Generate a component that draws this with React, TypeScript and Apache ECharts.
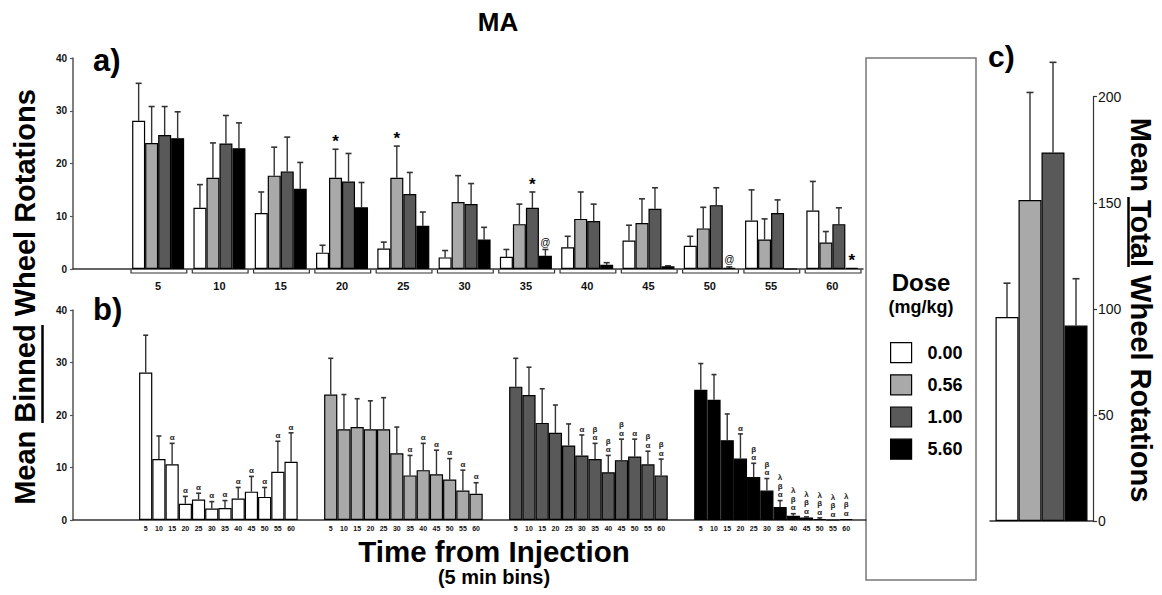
import React, { useEffect, useRef } from "react";
import * as echarts from "echarts";

const FONT = '"Liberation Sans", Arial, Helvetica, sans-serif';

// ---------- data ----------
const timeBins = [5, 10, 15, 20, 25, 30, 35, 40, 45, 50, 55, 60];
const doses = ["0.00", "0.56", "1.00", "5.60"];

const meanDose000 = [28.1, 11.6, 10.6, 3.1, 3.9, 2.2, 2.3, 4.1, 5.4, 4.4, 9.2, 11.1];
const meanDose056 = [23.9, 17.3, 17.7, 17.3, 17.3, 12.7, 8.5, 9.5, 8.7, 7.7, 5.6, 5.0];
const meanDose100 = [25.4, 23.8, 18.5, 16.6, 14.2, 12.3, 11.6, 9.1, 11.4, 12.1, 10.6, 8.5];
const meanDose560 = [24.8, 22.9, 15.2, 11.7, 8.2, 5.6, 2.5, 0.8, 0.5, 0.2, 0, 0.2];

const semDose000 = [7.1, 4.4, 4.0, 1.4, 1.2, 1.3, 1.4, 2.1, 2.9, 1.8, 5.8, 5.5];
const semDose056 = [6.9, 6.6, 5.4, 5.4, 6.0, 5.0, 3.8, 5.1, 4.6, 4.0, 3.9, 2.1];
const semDose100 = [5.4, 5.3, 6.5, 5.3, 4.1, 3.9, 3.0, 3.2, 4.0, 3.3, 2.5, 3.1];
const semDose560 = [5.0, 4.8, 5.0, 4.7, 2.6, 2.3, 1.2, 0.4, 0.1, 0.2, 0, 0];

// significance marks, panel a)
const markA000 = ["", "", "", "", "", "", "", "", "", "", "", ""];
const markA056 = ["", "", "", "*", "*", "", "", "", "", "", "", ""];
const markA100 = ["", "", "", "", "", "", "*", "", "", "", "", ""];
const markA560 = ["", "", "", "", "", "", "@", "", "", "@", "", "*"];

// significance marks, panel b) (read top to bottom)
const markB000 = ["", "", "α", "α", "α", "α", "α", "α", "α", "α", "α", "α"];
const markB056 = ["", "", "", "", "", "", "α", "α", "α", "α", "α", "α"];
const markB100 = ["", "", "", "", "", "α", "βα", "βα", "βα", "α", "βα", "βα"];
const markB560 = ["", "", "", "α", "βα", "βα", "λβα", "λβα", "λβα", "λβα", "λβα", "λβα"];

const totalMean = [96.1, 151.3, 173.7, 92.1];
const totalSem = [16.0, 50.7, 42.5, 22.1];

const binnedMax = 40;
const binnedStep = 10;
const totalMax = 200;
const totalStep = 50;

// ---------- derived ----------
const binMeans = [meanDose000, meanDose056, meanDose100, meanDose560];
const binSems = [semDose000, semDose056, semDose100, semDose560];
const marksA = [markA000, markA056, markA100, markA560];
const marksB = [markB000, markB056, markB100, markB560];
const colors = ["#ffffff", "#a9a9a9", "#595959", "#000000"];

const LEAD = 5; // empty slots before first group in panel b
const GAP = 2; // empty slots between groups in panel b
const TOTAL_SLOTS = 60;
const slotOf = (k: number, i: number) => LEAD + k * (timeBins.length + GAP) + i;
const bCats = Array.from({ length: TOTAL_SLOTS }, (_, s) => "s" + s);
const bLabels = Array.from({ length: TOTAL_SLOTS }, () => "");
doses.forEach((_, k) => timeBins.forEach((t, i) => (bLabels[slotOf(k, i)] = String(t))));

const BAR_A = 13;
const BAR_C = 23;

type Item = { i: number; k: number; mean: number; sem: number; mark: string };
const itemsA: Item[] = [];
const itemsB: Item[] = [];
doses.forEach((_, k) =>
  timeBins.forEach((_, i) => {
    itemsA.push({ i, k, mean: binMeans[k][i], sem: binSems[k][i], mark: marksA[k][i] });
    itemsB.push({ i: slotOf(k, i), k, mean: binMeans[k][i], sem: binSems[k][i], mark: marksB[k][i] });
  })
);
const itemsC: Item[] = doses.map((_, k) => ({ i: 0, k, mean: totalMean[k], sem: totalSem[k], mark: "" }));

const ERR = "#333";

function errShapes(x: number, yBot: number, yTop: number, half: number, sem: number) {
  if (!(sem > 0)) return [];
  return [
    { type: "line", shape: { x1: x, y1: yBot, x2: x, y2: yTop }, style: { stroke: ERR, lineWidth: 1.4 } },
    { type: "line", shape: { x1: x - half, y1: yTop, x2: x + half, y2: yTop }, style: { stroke: ERR, lineWidth: 1.6 } },
  ];
}

function gText(text: string, x: number, y: number, size: number, extra: any = {}) {
  return {
    type: "text",
    x,
    y,
    rotation: extra.rotation || 0,
    silent: true,
    style: {
      text,
      font: `${extra.weight || "bold"} ${size}px ${FONT}`,
      fill: "#000",
      textAlign: extra.align || "center",
      textVerticalAlign: "middle",
      align: extra.align || "center",
      verticalAlign: "middle",
    },
  };
}

export default function App() {
  const ref = useRef<HTMLDivElement>(null);
  useEffect(() => {
    if (!ref.current) return;
    const chart = echarts.init(ref.current, undefined, { renderer: "svg" });
    const axisLineDark = { show: true, lineStyle: { color: "#333", width: 1.5 } };
    const binnedY = (gridIndex: number) => ({
      gridIndex,
      type: "value",
      min: 0,
      max: binnedMax,
      interval: binnedStep,
      axisLine: { show: true, lineStyle: { color: "#555", width: 1.5 } },
      axisTick: { show: true, length: 3, lineStyle: { color: "#555", width: 1.2 } },
      axisLabel: { fontWeight: "bold", fontSize: 10, margin: 6, color: "#111", fontFamily: FONT },
      splitLine: { show: false },
    });
    const barStyle = (k: number) => ({ color: colors[k], borderColor: "#000", borderWidth: 1.2 });

    const option: any = {
      animation: false,
      backgroundColor: "#fff",
      textStyle: { fontFamily: FONT },
      grid: [
        { left: 73, top: 58, width: 790, height: 211, containLabel: false, outerBoundsMode: "none" },
        { left: 127.5, top: 58, width: 735.5, height: 211, containLabel: false, outerBoundsMode: "none" },
        { left: 73, top: 310, width: 793, height: 210, containLabel: false, outerBoundsMode: "none" },
        { left: 990, top: 96.7, width: 103, height: 424.3, containLabel: false, outerBoundsMode: "none" },
      ],
      xAxis: [
        {
          gridIndex: 0,
          type: "value",
          min: 0,
          max: 1,
          axisLine: axisLineDark,
          axisTick: { show: false },
          axisLabel: { show: false },
          splitLine: { show: false },
        },
        {
          gridIndex: 1,
          type: "category",
          data: timeBins.map(String),
          axisLine: { show: false },
          axisTick: { show: false },
          axisLabel: { fontWeight: "bold", fontSize: 11, margin: 11, color: "#111", fontFamily: FONT, interval: 0 },
          splitLine: { show: false },
        },
        {
          gridIndex: 2,
          type: "category",
          data: bCats,
          axisLine: axisLineDark,
          axisTick: { show: false },
          axisLabel: {
            interval: 0,
            formatter: (_v: string, idx: number) => bLabels[idx],
            fontWeight: "bold",
            fontSize: 7,
            margin: 5,
            color: "#111",
            fontFamily: FONT,
          },
          splitLine: { show: false },
        },
        {
          gridIndex: 3,
          type: "category",
          data: ["Total"],
          axisLine: axisLineDark,
          axisTick: { show: false },
          axisLabel: { show: false },
          splitLine: { show: false },
        },
      ],
      yAxis: [
        binnedY(0),
        { gridIndex: 1, type: "value", min: 0, max: binnedMax, show: false },
        binnedY(2),
        {
          gridIndex: 3,
          type: "value",
          position: "right",
          min: 0,
          max: totalMax,
          interval: totalStep,
          axisLine: { show: true, lineStyle: { color: "#333", width: 1.2 } },
          axisTick: { show: true, length: 4, lineStyle: { color: "#333", width: 1.2 } },
          axisLabel: { fontSize: 14, margin: 5, color: "#111", fontFamily: FONT },
          splitLine: { show: false },
        },
      ],
      legend: {
        data: doses,
        orient: "vertical",
        left: 890,
        top: 342,
        padding: 0,
        itemWidth: 21,
        itemHeight: 20,
        itemGap: 11,
        icon: "rect",
        selectedMode: false,
        itemStyle: { borderColor: "#000", borderWidth: 1.2 },
        textStyle: { fontSize: 18, fontWeight: "bold", color: "#000", fontFamily: FONT, padding: [0, 0, 0, 11] },
      },
      series: [
        // panel a bars
        ...doses.map((d, k) => ({
          type: "bar",
          name: d,
          xAxisIndex: 1,
          yAxisIndex: 1,
          data: binMeans[k],
          barWidth: BAR_A,
          barGap: "0%",
          itemStyle: barStyle(k),
        })),
        // panel b bars
        ...doses.map((d, k) => {
          const arr: any[] = Array.from({ length: TOTAL_SLOTS }, () => "-");
          timeBins.forEach((_, i) => (arr[slotOf(k, i)] = binMeans[k][i]));
          return {
            type: "bar",
            name: d,
            xAxisIndex: 2,
            yAxisIndex: 2,
            data: arr,
            barGap: "-100%",
            barCategoryGap: "0%",
            itemStyle: barStyle(k),
          };
        }),
        // panel c bars
        ...doses.map((d, k) => ({
          type: "bar",
          name: d,
          xAxisIndex: 3,
          yAxisIndex: 3,
          data: [totalMean[k]],
          barWidth: BAR_C,
          barGap: "0%",
          itemStyle: barStyle(k),
        })),
        // panel a brackets under each time bin
        {
          type: "custom",
          name: "brackets",
          xAxisIndex: 1,
          yAxisIndex: 1,
          silent: true,
          data: timeBins.map((_, i) => [i, 0]),
          renderItem: (params: any, api: any) => {
            const p = api.coord([params.dataIndex, 0]);
            const bw = api.size([1, 0])[0];
            const x0 = p[0] - bw / 2 + 3.5;
            const x1 = p[0] + bw / 2 - 2;
            const y = p[1] + 0.5;
            return {
              type: "polyline",
              shape: { points: [[x0, y], [x0, y + 3.5], [x1, y + 3.5], [x1, y]] },
              style: { stroke: "#333", lineWidth: 1.2, fill: null },
            };
          },
        },
        // panel a error bars + marks
        {
          type: "custom",
          name: "errA",
          xAxisIndex: 1,
          yAxisIndex: 1,
          silent: true,
          data: itemsA.map((it) => [it.i, it.mean + it.sem]),
          renderItem: (params: any, api: any) => {
            const it = itemsA[params.dataIndex];
            const top = api.coord([it.i, it.mean + it.sem]);
            const bot = api.coord([it.i, it.mean]);
            const x = top[0] + (it.k - 1.5) * BAR_A;
            const children: any[] = errShapes(x, bot[1], top[1], 3, it.sem);
            if (it.mark) {
              const star = it.mark === "*";
              children.push({
                type: "text",
                x,
                y: star ? top[1] + 1 : top[1] - 7,
                style: {
                  text: it.mark,
                  fill: "#000",
                  font: star ? `bold 17px ${FONT}` : `10px ${FONT}`,
                  align: "center",
                  verticalAlign: star ? "bottom" : "middle",
                  textAlign: "center",
                  textVerticalAlign: star ? "bottom" : "middle",
                },
              });
            }
            return { type: "group", children };
          },
        },
        // panel b error bars + marks
        {
          type: "custom",
          name: "errB",
          xAxisIndex: 2,
          yAxisIndex: 2,
          silent: true,
          data: itemsB.map((it) => [it.i, it.mean + it.sem]),
          renderItem: (params: any, api: any) => {
            const it = itemsB[params.dataIndex];
            const top = api.coord([it.i, it.mean + it.sem]);
            const bot = api.coord([it.i, it.mean]);
            const x = top[0];
            const children: any[] = errShapes(x, bot[1], top[1], 2.5, it.sem);
            if (it.mark) {
              children.push({
                type: "text",
                x,
                y: top[1] - 1.5,
                style: {
                  text: it.mark.split("").join("\n"),
                  fill: "#222",
                  font: `bold 8px ${FONT}`,
                  lineHeight: 8.5,
                  align: "center",
                  verticalAlign: "bottom",
                  textAlign: "center",
                  textVerticalAlign: "bottom",
                },
              });
            }
            return { type: "group", children };
          },
        },
        // panel c error bars
        {
          type: "custom",
          name: "errC",
          xAxisIndex: 3,
          yAxisIndex: 3,
          silent: true,
          data: itemsC.map((it) => [0, it.mean + it.sem]),
          renderItem: (params: any, api: any) => {
            const it = itemsC[params.dataIndex];
            const top = api.coord([0, it.mean + it.sem]);
            const bot = api.coord([0, it.mean]);
            const x = top[0] + (it.k - 1.5) * BAR_C;
            return { type: "group", children: errShapes(x, bot[1], top[1], 3.5, it.sem) };
          },
        },
      ],
      graphic: [
        {
          type: "rect",
          shape: { x: 866, y: 58, width: 110, height: 522 },
          style: { stroke: "#777", lineWidth: 1.5, fill: "none" },
          silent: true,
        },
        gText("MA", 498, 22, 26),
        gText("a)", 93, 60, 31, { align: "left" }),
        gText("b)", 93, 309, 31, { align: "left" }),
        gText("c)", 988, 56, 30, { align: "left" }),
        gText("Mean Binned Wheel Rotations", 25, 297, 29, { rotation: Math.PI / 2 }),
        { type: "line", shape: { x1: 42.5, y1: 423, x2: 42.5, y2: 325 }, style: { stroke: "#000", lineWidth: 2.5 }, silent: true },
        gText("Mean Total Wheel Rotations", 1141, 310, 29, { rotation: -Math.PI / 2 }),
        { type: "line", shape: { x1: 1128.5, y1: 197, x2: 1128.5, y2: 267 }, style: { stroke: "#000", lineWidth: 2.5 }, silent: true },
        gText("Time from Injection", 494, 551, 29.5),
        gText("(5 min bins)", 494, 577, 20),
        gText("Dose", 921, 282, 24),
        gText("(mg/kg)", 921, 307, 18),
      ],
    };
    chart.setOption(option);
    return () => chart.dispose();
  }, []);
  return (
    <div
      ref={ref}
      style={{ position: "absolute", left: 0, top: 0, width: 1162, height: 595, background: "#fff" }}
    />
  );
}
